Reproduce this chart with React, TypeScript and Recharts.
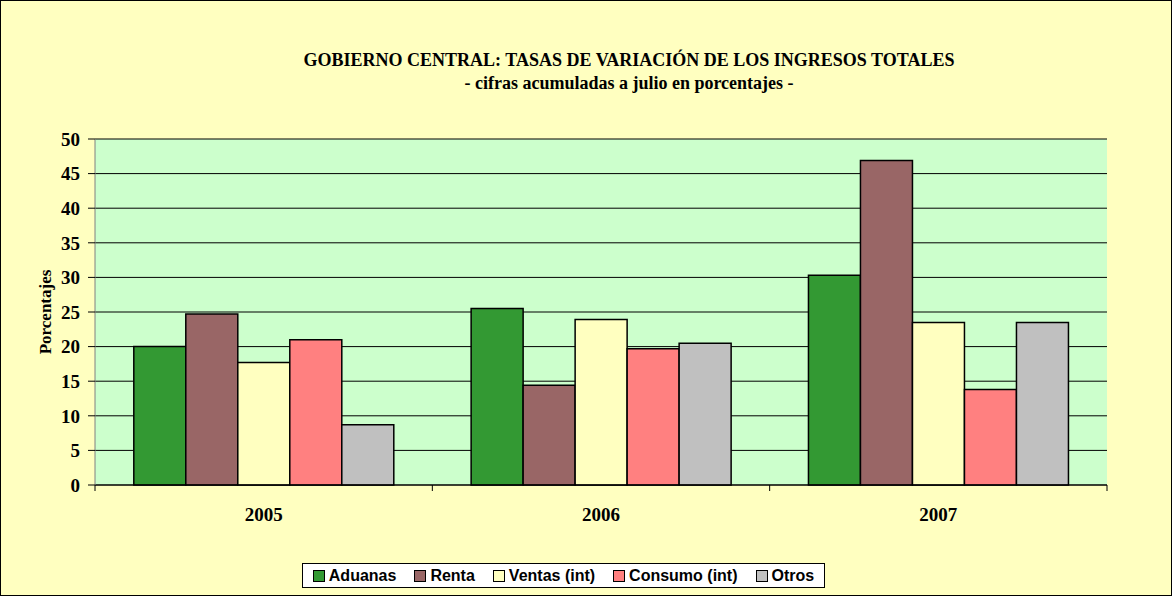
import React from "react";
import { BarChart, Bar, XAxis, YAxis, CartesianGrid, Legend } from "recharts";

const years = ["2005", "2006", "2007"];
const aduanas = [20.0, 25.5, 30.3];
const renta = [24.7, 14.4, 46.9];
const ventas = [17.7, 23.9, 23.5];
const consumo = [21.0, 19.7, 13.8];
const otros = [8.7, 20.5, 23.5];
const yTicks = [0, 5, 10, 15, 20, 25, 30, 35, 40, 45, 50];

const series = [
  { key: "Aduanas", color: "#339933" },
  { key: "Renta", color: "#996666" },
  { key: "Ventas (int)", color: "#FFFFC0" },
  { key: "Consumo (int)", color: "#FF8080" },
  { key: "Otros", color: "#C0C0C0" },
];

const data = years.map((y, i) => ({
  year: y,
  Aduanas: aduanas[i],
  Renta: renta[i],
  "Ventas (int)": ventas[i],
  "Consumo (int)": consumo[i],
  Otros: otros[i],
}));

const W = 1172;
const H = 596;
const M = { top: 139, right: 65, left: 20, bottom: 8 };
const band = (W - M.left - M.right - 75) / years.length;
const serif = "'Liberation Serif', 'Times New Roman', serif";

function YearTick(props: any) {
  const { x, y, payload, index } = props;
  return (
    <g>
      <line x1={x - band / 2} y1={y - 8} x2={x - band / 2} y2={y - 2} stroke="#000" />
      {index === years.length - 1 && (
        <line x1={x + band / 2} y1={y - 8} x2={x + band / 2} y2={y - 2} stroke="#000" />
      )}
      <text x={x} y={y + 28} textAnchor="middle" fontFamily={serif} fontWeight="bold" fontSize={19} fill="#000">
        {payload.value}
      </text>
    </g>
  );
}

function LegendBox() {
  return (
    <div style={{ textAlign: "center" }}>
      <div
        style={{
          display: "inline-block",
          background: "#fff",
          border: "1px solid #000",
          padding: "2px 10px 2px 10px",
          marginTop: 1,
          fontFamily: "'Liberation Sans', Arial, sans-serif",
          fontWeight: "bold",
          fontSize: 16,
          lineHeight: "19px",
        }}
      >
        {series.map((s, i) => (
          <span key={s.key} style={{ marginLeft: i === 0 ? 0 : 18 }}>
            <span
              style={{
                display: "inline-block",
                width: 10,
                height: 10,
                background: s.color,
                border: "1px solid #000",
                marginRight: 4,
                verticalAlign: "-1px",
              }}
            />
            {s.key}
          </span>
        ))}
      </div>
    </div>
  );
}

export default function App() {
  return (
    <div
      style={{
        position: "absolute",
        left: 0,
        top: 0,
        width: W,
        height: H,
        background: "#FFFFC0",
        border: "1px solid #000",
        boxSizing: "border-box",
      }}
    >
      <div
        style={{
          position: "absolute",
          left: 0,
          width: W,
          top: 48,
          textAlign: "center",
          fontFamily: serif,
          fontWeight: "bold",
          fontSize: 18,
          lineHeight: "23px",
          paddingLeft: 84,
          boxSizing: "border-box",
        }}
      >
        <div>GOBIERNO CENTRAL: TASAS DE VARIACIÓN DE LOS INGRESOS TOTALES</div>
        <div>- cifras acumuladas a julio en porcentajes -</div>
      </div>
      <div style={{ position: "absolute", left: -1, top: -1 }}>
        <BarChart width={W} height={H} data={data} margin={M} barCategoryGap="11.5%" barGap={0}>
          <CartesianGrid
            horizontal={true}
            vertical={false}
            stroke="#000"
            fill="#CCFFCC"
            fillOpacity={1}
          />
          <XAxis
            dataKey="year"
            height={77}
            axisLine={{ stroke: "#000" }}
            tickLine={false}
            tick={<YearTick />}
            interval={0}
          />
          <YAxis
            domain={[0, 50]}
            ticks={yTicks}
            width={75}
            axisLine={{ stroke: "#808080" }}
            tickLine={{ stroke: "#000" }}
            tickSize={7}
            tickMargin={8}
            tick={{ fill: "#000", fontFamily: serif, fontWeight: "bold", fontSize: 19 }}
            label={{
              value: "Porcentajes",
              angle: -90,
              position: "insideLeft",
              offset: 25,
              style: { fontFamily: serif, fontWeight: "bold", fontSize: 17, fill: "#000", textAnchor: "middle" },
            }}
          />
          <Legend verticalAlign="bottom" content={<LegendBox />} />
          {series.map((s) => (
            <Bar
              key={s.key}
              dataKey={s.key}
              fill={s.color}
              stroke="#000"
              strokeWidth={1.5}
              isAnimationActive={false}
            />
          ))}
        </BarChart>
      </div>
    </div>
  );
}
